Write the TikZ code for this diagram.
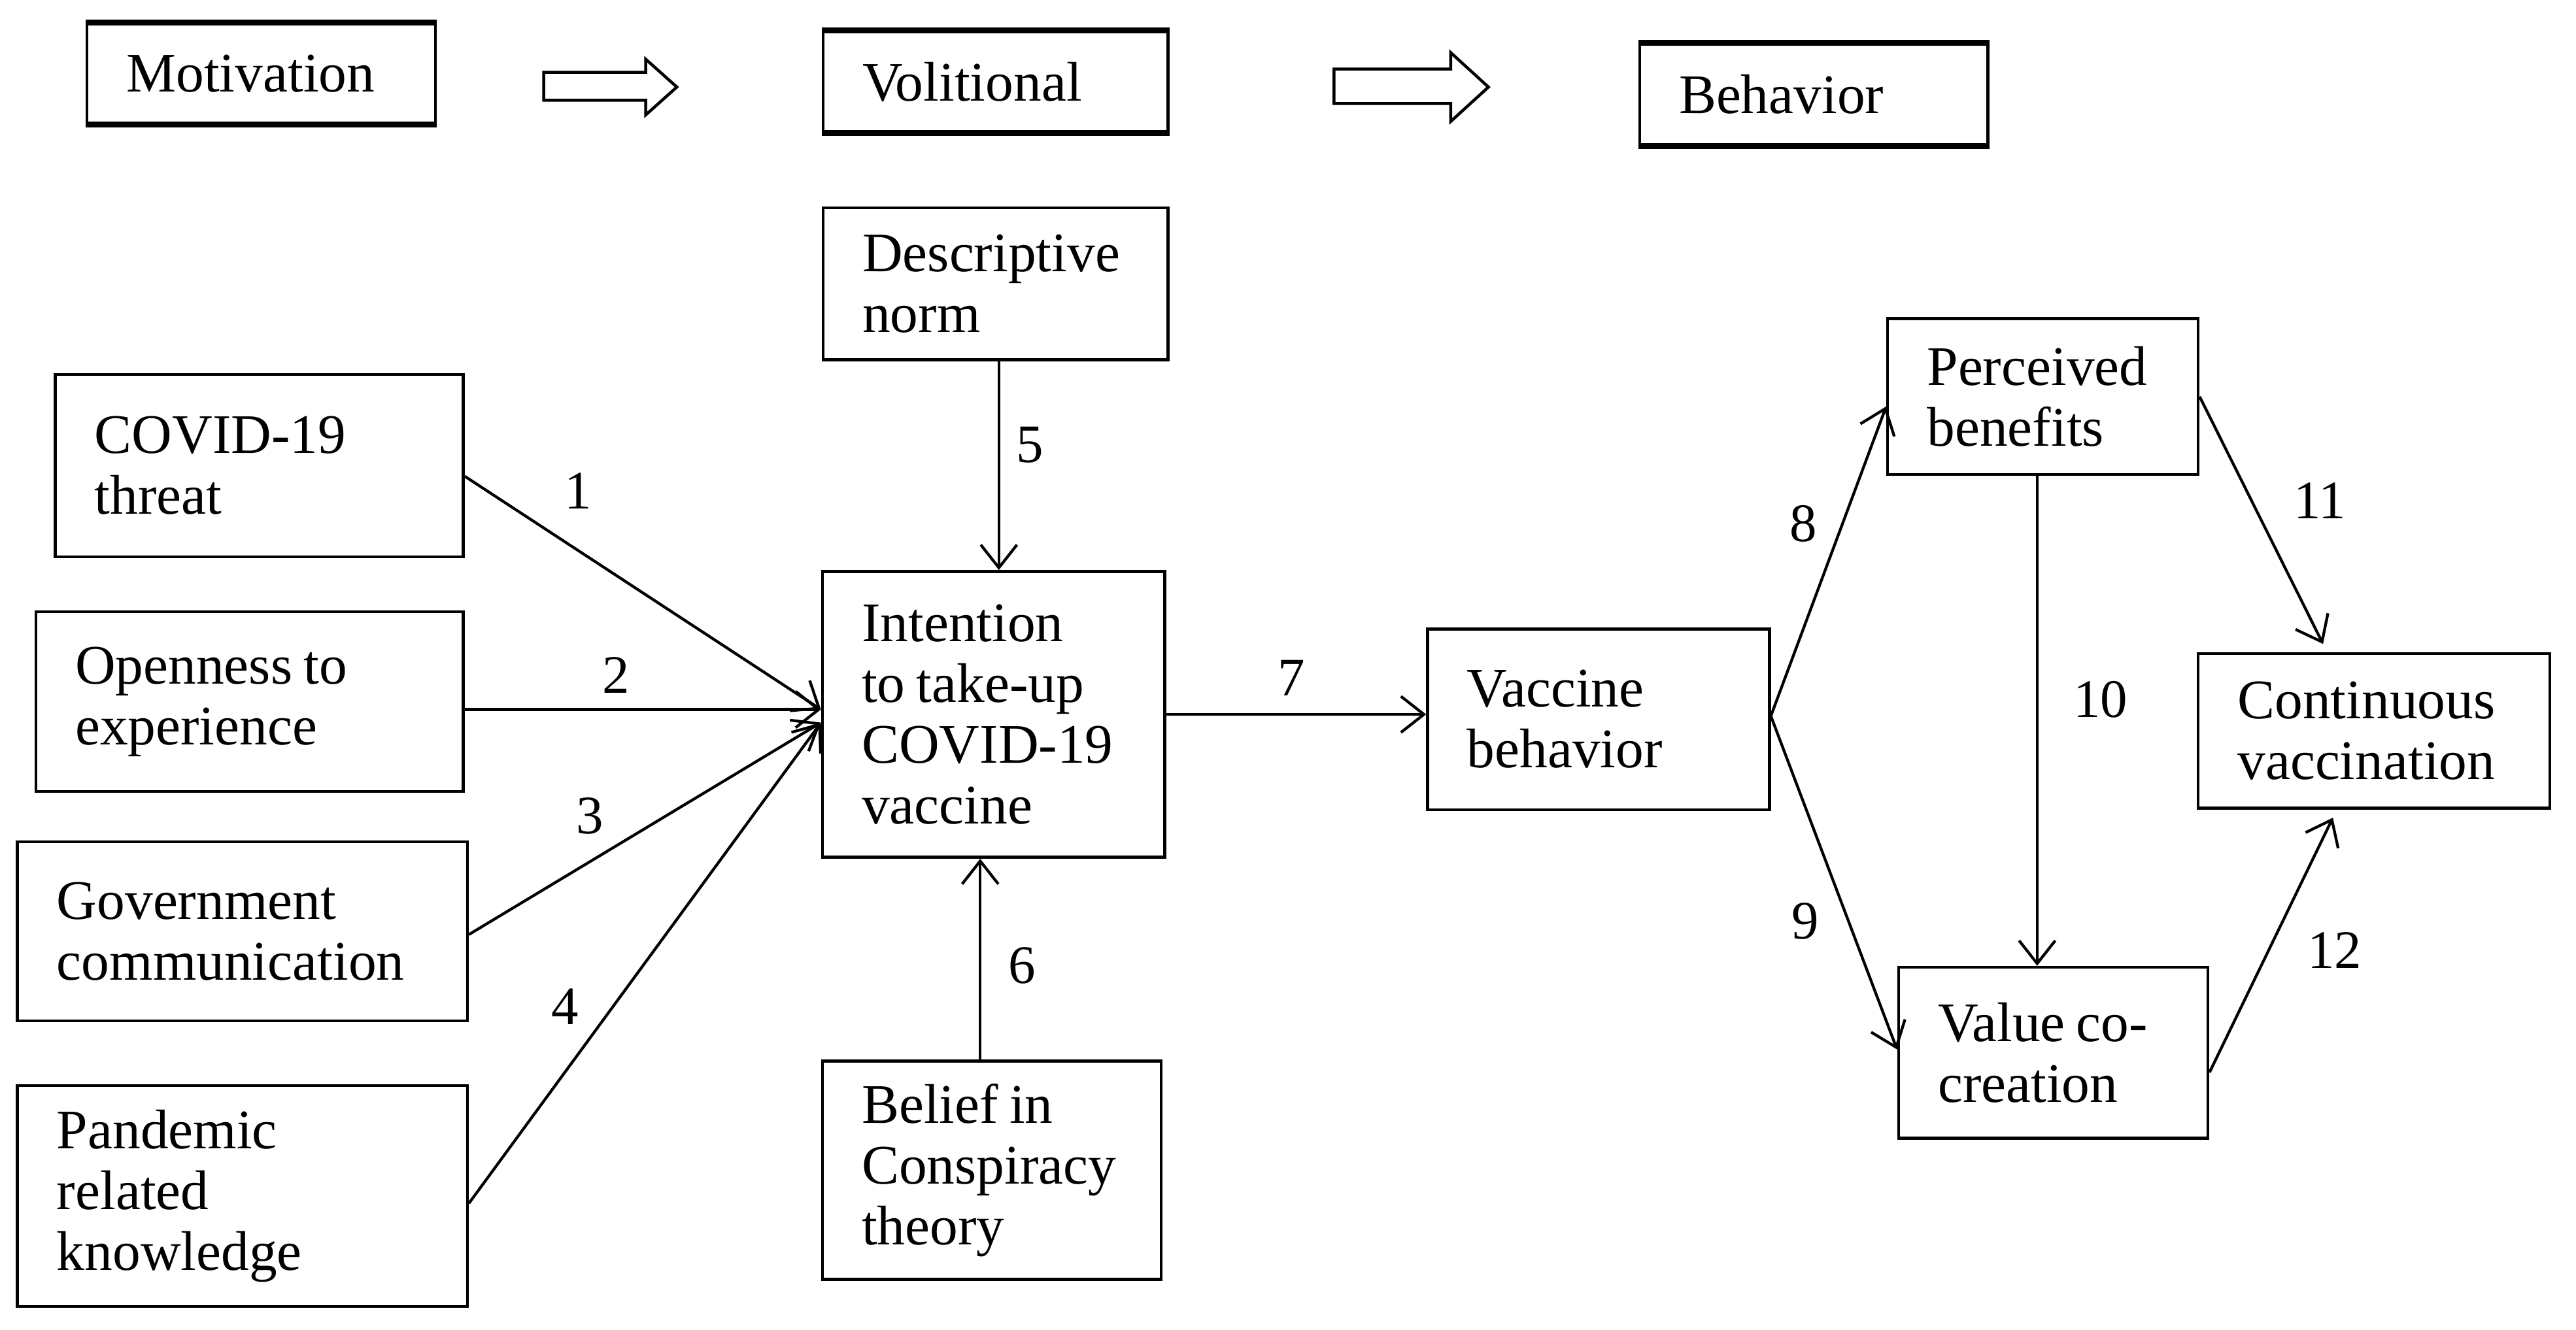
\documentclass[tikz,border=0pt]{standalone}
\usepackage{fontspec}
\setmainfont{Liberation Serif}
\usetikzlibrary{arrows.meta,calc}
\begin{document}
\begin{tikzpicture}[x=1pt,y=-1pt,
 box/.style={draw, line width=1.8pt, rectangle, inner xsep=24pt, inner ysep=0pt, align=left, font=\fontsize{34}{37}\selectfont, anchor=center, execute at begin node={\spaceskip=0.2em\relax}},
 lbl/.style={font=\fontsize{33}{37}\selectfont, inner sep=0pt},
 conn/.style={line width=1.7pt, -{Straight Barb[length=14pt,width=22pt,line width=1.7pt]}},
 blockarrow/.style={line width=1.8pt, line join=miter},
 thickedge/.style={line width=3.4pt},
]
\useasboundingbox (0,0) rectangle (1568,809.5);

% header row
\node[box, text width=164pt, minimum height=60.5pt] (mot) at (159,44.75) {Motivation};
\node[box, text width=162pt, minimum height=60.5pt] (vol) at (606,49.75) {Volitional};
\node[box, text width=164pt, minimum height=61pt] (beh) at (1104,57.5) {Behavior};
\foreach \n in {mot,vol,beh}{
  \draw[thickedge] (\n.north west) -- (\n.north east);
  \draw[thickedge] (\n.south west) -- (\n.south east);
}
\draw[blockarrow] (331,44) -- (393,44) -- (393,36) -- (412,53) -- (393,70) -- (393,61) -- (331,61) -- cycle;
\draw[blockarrow] (812,42) -- (883,42) -- (883,32) -- (906,53) -- (883,74) -- (883,63) -- (812,63) -- cycle;

% main boxes
\node[box, text width=162pt, minimum height=92.5pt] (dn) at (606,172.75) {Descriptive\\norm};
\node[box, text width=200.3pt, minimum height=111pt] (ct) at (157.85,283.5) {COVID-19\\threat};
\node[box, text width=212.2pt, minimum height=109.5pt] (op) at (151.9,427.25) {Openness to\\experience};
\node[box, text width=225.9pt, minimum height=109.1pt] (gc) at (147.55,567.05) {Government\\communication};
\node[box, text width=225.9pt, minimum height=134.5pt] (pk) at (147.55,728.25) {Pandemic\\related\\knowledge};
\node[box, text width=160.4pt, minimum height=174pt] (int) at (604.8,435) {Intention\\to take-up\\COVID-19\\vaccine};
\node[box, text width=158.1pt, minimum height=133pt] (bc) at (603.65,712.5) {Belief in\\Conspiracy\\theory};
\node[box, text width=160pt, minimum height=110pt] (vb) at (973,438) {Vaccine\\behavior};
\node[box, text width=141pt, minimum height=95pt] (pb) at (1243.5,241.5) {Perceived\\benefits};
\node[box, text width=166pt, minimum height=94pt] (cv) at (1445,445) {Continuous\\vaccination};
\node[box, text width=140.4pt, minimum height=104pt] (vcc) at (1249.8,641) {Value co-\\creation};

% connectors
\coordinate (tipA) at ([yshift=3pt]int.west);
\coordinate (tipB) at ([yshift=-5pt]int.west);
\draw[conn] ([yshift=-6.5pt]ct.east) -- (tipA);
\draw[conn] (op.east |- tipA) -- (tipA);
\draw[conn] ([yshift=-2pt]gc.east) -- (tipB);
\draw[conn] ([yshift=-4.5pt]pk.east) -- (tipB);
\draw[conn] ([xshift=2pt]dn.south) -- ([xshift=2pt]dn.south |- int.north);
\draw[conn] ([xshift=-7pt]bc.north) -- ([xshift=-7pt]bc.north |- int.south);
\draw[conn] (int.east) -- (vb.west |- int.east);
\draw[conn] ([yshift=2pt]vb.east) -- ([yshift=-6pt]pb.west);
\draw[conn] ([yshift=2pt]vb.east) -- ([yshift=2pt]vcc.west);
\draw[conn] ([xshift=-3.5pt]pb.south) -- ([xshift=-3.5pt]pb.south |- vcc.north);
\draw[conn] (pb.east) -- ([xshift=-31pt,yshift=5pt]cv.north);
\draw[conn] ([yshift=-12pt]vcc.east) -- ([xshift=-25pt,yshift=-5pt]cv.south);

% labels
\node[lbl] (l1) at (352,299) {1};
\node[lbl] (l2) at (375,411) {2};
\node[lbl] (l3) at (359,497) {3};
\node[lbl] (l4) at (344,613) {4};
\node[lbl] (l5) at (627,271) {5};
\node[lbl] (l6) at (622,588) {6};
\node[lbl] (l7) at (786,413) {7};
\node[lbl] (l8) at (1097.5,319) {8};
\node[lbl] (l9) at (1099,561) {9};
\node[lbl] (l10) at (1278.5,426) {10};
\node[lbl] (l11) at (1412,305) {11};
\node[lbl] (l12) at (1421,578.6) {12};
\end{tikzpicture}
\end{document}
